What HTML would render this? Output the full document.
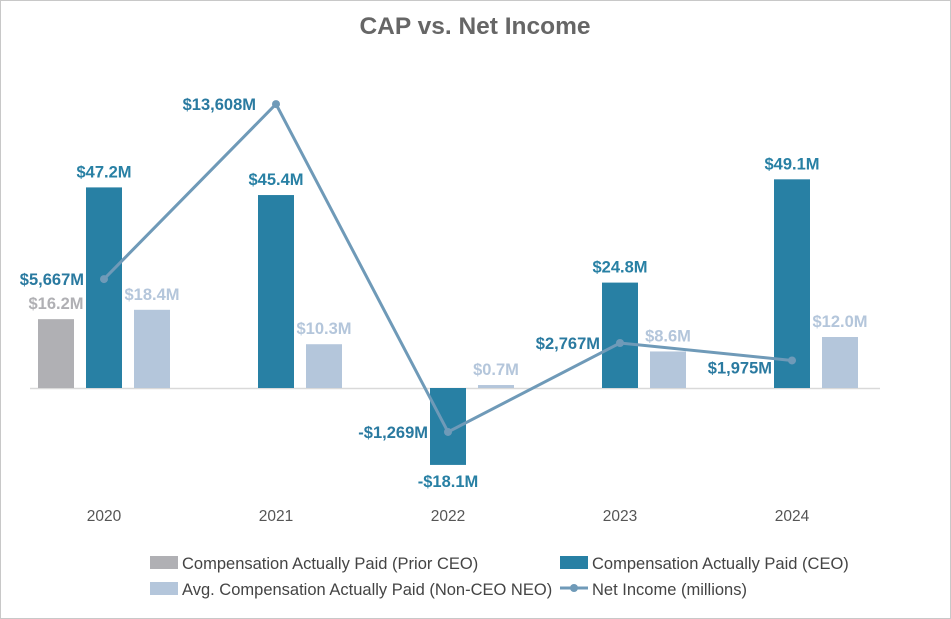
<!DOCTYPE html>
<html><head><meta charset="utf-8"><style>
body{margin:0;background:#fff}
svg{display:block;font-family:"Liberation Sans",Arial,sans-serif}
</style></head><body>
<svg id="chart" width="951" height="619" viewBox="0 0 951 619">
<rect x="0.5" y="0.5" width="950" height="618" fill="#fff" stroke="#c8c8c8"/>
<text x="475" y="34" text-anchor="middle" font-size="24.5" font-weight="bold" fill="#666">CAP vs. Net Income</text>
<line x1="30" y1="388.5" x2="880" y2="388.5" stroke="#d9d9d9" stroke-width="1.5"/>
<g id="bars"></g><g id="line"></g><g id="labels"></g><g id="xaxis"></g>
<g>
<rect x="150" y="556" width="28" height="13" fill="#b0b0b4"/>
<text x="182" y="569" font-size="16.5" fill="#444">Compensation Actually Paid (Prior CEO)</text>
<rect x="560" y="556" width="28" height="13" fill="#2880a4"/>
<text x="592" y="569" font-size="16.5" fill="#444">Compensation Actually Paid (CEO)</text>
<rect x="150" y="582" width="28" height="13" fill="#b4c6db"/>
<text x="182" y="595" font-size="16.5" fill="#444">Avg. Compensation Actually Paid (Non-CEO NEO)</text>
<line x1="560" y1="588" x2="588" y2="588" stroke="#6f9ab8" stroke-width="3"/>
<circle cx="574" cy="588" r="4" fill="#6f9ab8"/>
<text x="592" y="595" font-size="16.5" fill="#444">Net Income (millions)</text>
</g>
</svg>
<script>
const years = ["2020","2021","2022","2023","2024"];
const priorCeo = [16.2, null, null, null, null];
const ceo = [47.2, 45.4, -18.1, 24.8, 49.1];
const neo = [18.4, 10.3, 0.7, 8.6, 12.0];
const netIncome = [5667, 13608, -1269, 2767, 1975];
const netIncomeLabels = ["$5,667M","$13,608M","-$1,269M","$2,767M","$1,975M"];

const NS = "http://www.w3.org/2000/svg";
const xC = i => 104 + i*172;
const yBar = v => 388 - v*4.25;
const yNI = v => 404 - v*0.02204;
function mk(tag, attrs, parent, txt){
  const e = document.createElementNS(NS, tag);
  for (const k in attrs) e.setAttribute(k, attrs[k]);
  if (txt!=null) e.textContent = txt;
  document.getElementById(parent).appendChild(e);
  return e;
}
const fmt = v => (v<0?"-$":"$") + Math.abs(v).toFixed(1) + "M";
const series = [
  {vals: priorCeo, off: -48, color: "#b0b0b4", lc: "#b0b0b4", name: "prior-ceo"},
  {vals: ceo, off: 0, color: "#2880a4", lc: "#2880a4", name: "ceo"},
  {vals: neo, off: 48, color: "#b4c6db", lc: "#b4c6db", name: "neo"}
];
series.forEach(s => {
  s.vals.forEach((v, i) => {
    if (v == null) return;
    const cx = xC(i) + s.off;
    const y0 = yBar(0), y1 = yBar(v);
    const r = mk("rect", {x: cx-18, y: Math.min(y0,y1), width: 36, height: Math.abs(y1-y0), fill: s.color}, "bars");
    
    
    const ly = v >= 0 ? y1 - 10 : y1 + 22;
    const t = mk("text", {x: cx, y: ly, "text-anchor": "middle", "font-size": 16.5, "font-weight": "bold", fill: s.lc}, "labels", fmt(v));
    
    
  });
});
const pts = netIncome.map((v, i) => xC(i) + "," + yNI(v)).join(" ");
const pl = mk("polyline", {points: pts, fill: "none", stroke: "#6f9ab8", "stroke-width": 3}, "line");


netIncome.forEach((v, i) => {
  const c = mk("circle", {cx: xC(i), cy: yNI(v), r: 4, fill: "#6f9ab8"}, "line");
  
  
  const dy = i === 4 ? 13 : 6;
  const t = mk("text", {x: xC(i) - 20, y: yNI(v) + dy, "text-anchor": "end", "font-size": 16.5, "font-weight": "bold", fill: "#2a7aa0"}, "labels", netIncomeLabels[i]);
  
  
});
years.forEach((y, i) => {
  const t = mk("text", {x: xC(i), y: 521, "text-anchor": "middle", "font-size": 15.5, fill: "#555"}, "xaxis", y);
  
  
});
</script>
</body></html>
